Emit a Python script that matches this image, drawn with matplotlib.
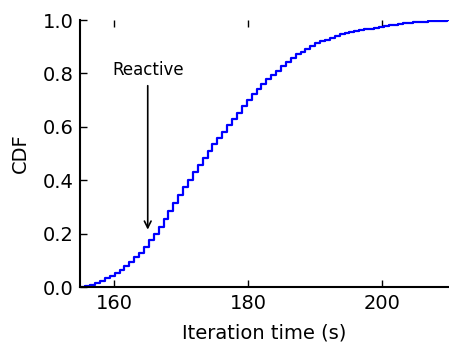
import numpy as np
import matplotlib
matplotlib.use("Agg")
import matplotlib.pyplot as plt

# step positions of the CDF (s) and the CDF value read at each step
t_start = 155.0
t_step = 0.73
cdf = [0.002, 0.005, 0.009, 0.016, 0.024, 0.033, 0.042, 0.052, 0.065, 0.079,
       0.094, 0.111, 0.129, 0.150, 0.176, 0.198, 0.226, 0.256, 0.285, 0.315,
       0.344, 0.373, 0.402, 0.432, 0.458, 0.484, 0.509, 0.535, 0.560, 0.581,
       0.606, 0.629, 0.652, 0.677, 0.700, 0.722, 0.742, 0.760, 0.779, 0.795,
       0.810, 0.828, 0.843, 0.858, 0.871, 0.882, 0.893, 0.903, 0.913, 0.920,
       0.927, 0.934, 0.940, 0.946, 0.951, 0.955, 0.959, 0.963, 0.966, 0.968,
       0.970, 0.974, 0.978, 0.981, 0.983, 0.985, 0.987, 0.989, 0.991, 0.992,
       0.994, 0.995, 0.996, 0.997, 0.998, 0.999]
times = t_start + t_step * np.arange(len(cdf))

x_ticks = [160, 180, 200]
y_ticks = [0.0, 0.2, 0.4, 0.6, 0.8, 1.0]

fig = plt.figure(figsize=(4.49, 3.45), dpi=100)
ax = fig.add_axes([0.179, 0.168, 0.821, 0.774])

ax.plot(np.append(times, 210.5), np.append(cdf, cdf[-1]),
        drawstyle="steps-post", color="#0000ff", lw=1.6)

ax.annotate("Reactive", xy=(165.05, 0.215), xytext=(165.05, 0.78),
            ha="center", va="bottom", fontsize=12,
            arrowprops=dict(arrowstyle="->", lw=1.2, color="black",
                            shrinkA=3, shrinkB=0))

ax.set_xlim(155, 210)
ax.set_ylim(0, 1.0)
ax.set_xticks(x_ticks)
ax.set_yticks(y_ticks)
ax.set_xlabel("Iteration time (s)", fontsize=14, labelpad=7.5)
ax.set_ylabel("CDF", fontsize=14, labelpad=9)

for s in ["top", "right"]:
    ax.spines[s].set_visible(False)
for s in ["left", "bottom"]:
    ax.spines[s].set_linewidth(1.5)

ax.tick_params(direction="in", top=True, right=False, length=5, width=1,
               labelsize=14, pad=5)

fig.savefig("out.png", dpi=100)
